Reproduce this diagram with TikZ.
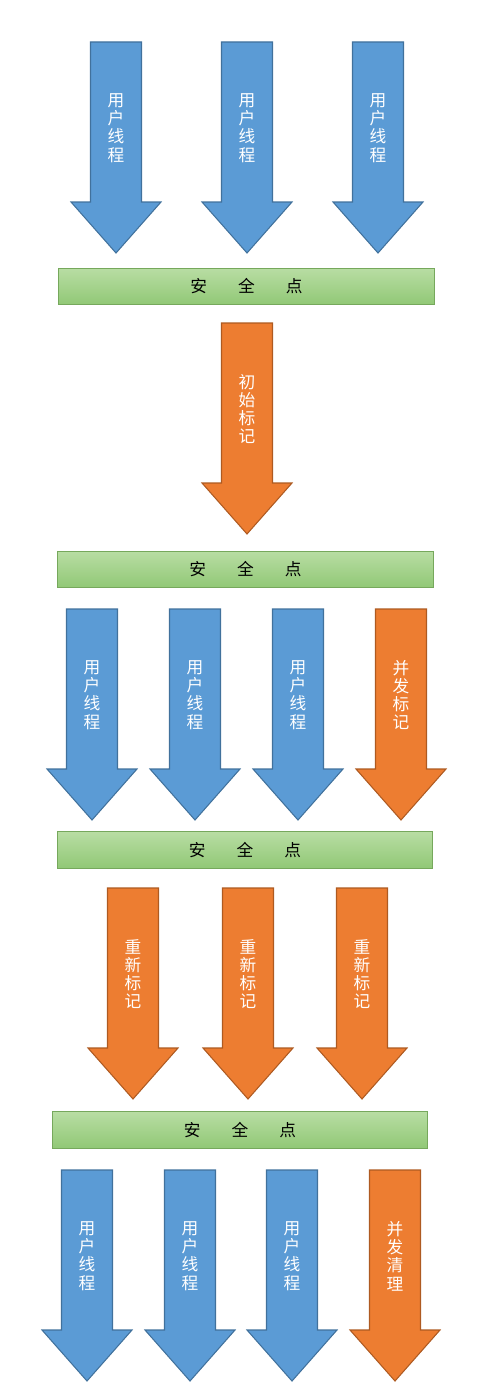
\documentclass[tikz,border=0pt]{standalone}
\usepackage{fontspec}
\setmainfont{Noto Sans CJK SC}
\usepackage{tikz}
\usetikzlibrary{positioning}
\usetikzlibrary{calc}
\definecolor{threadfill}{RGB}{91,155,213}
\definecolor{threadline}{RGB}{65,113,156}
\definecolor{gcfill}{RGB}{237,125,49}
\definecolor{gcline}{RGB}{174,90,33}
\definecolor{pointtop}{RGB}{184,221,163}
\definecolor{pointbottom}{RGB}{145,200,118}
\definecolor{pointline}{RGB}{118,168,92}
\tikzstyle{bluearrow}=[fill=threadfill,draw=threadline,line width=0.6pt,line join=miter]
\tikzstyle{orangearrow}=[fill=gcfill,draw=gcline,line width=0.6pt,line join=miter]
\tikzstyle{arrowtext}=[text=white,align=center,inner sep=0pt,font=\fontsize{9.5}{10.4}\selectfont]
\tikzstyle{safepoint}=[draw=pointline,line width=0.6pt,top color=pointtop,bottom color=pointbottom,minimum width=7.52cm,minimum height=0.73cm,inner sep=0pt,font=\fontsize{9.5}{10.4}\selectfont]

\begin{document}
\begin{tikzpicture}[x=0.02cm, y=-0.02cm]

  \useasboundingbox (0,0) rectangle (500,1399);

  \def\sw{25.5};
  \def\hw{45};
  \def\sl{160};
  \def\al{211};

  % user threads
  \foreach \x/\y/\name in {116/42/ua, 247/42/ub, 378/42/uc, 92/609/ud, 195/609/ue, 298/609/uf, 87/1170/ug, 190/1170/uh, 292/1170/ui}
  {
    \draw[bluearrow] (\x-\sw,\y) -- (\x+\sw,\y) -- (\x+\sw,\y+\sl) -- (\x+\hw,\y+\sl) -- (\x,\y+\al) -- (\x-\hw,\y+\sl) -- (\x-\sw,\y+\sl) -- cycle;
    \node[arrowtext] (\name) at (\x,\y+86) {用\\户\\线\\程};
  }

  % gc phases
  \foreach \x/\y/\name/\txt in {247/323/init/{初\\始\\标\\记}, 401/609/cmark/{并\\发\\标\\记}, 133/888/ra/{重\\新\\标\\记}, 248/888/rb/{重\\新\\标\\记}, 362/888/rc/{重\\新\\标\\记}, 395/1170/clean/{并\\发\\清\\理}}
  {
    \draw[orangearrow] (\x-\sw,\y) -- (\x+\sw,\y) -- (\x+\sw,\y+\sl) -- (\x+\hw,\y+\sl) -- (\x,\y+\al) -- (\x-\hw,\y+\sl) -- (\x-\sw,\y+\sl) -- cycle;
    \node[arrowtext] (\name) at (\x,\y+86) {\txt};
  }

  % safe points
  \foreach \x/\y/\name in {246.5/286.5/sa, 245.5/569.5/sb, 245/850/sc, 240/1130/sd}
    \node[safepoint] (\name) at (\x,\y) {安\hspace{0.62cm}全\hspace{0.62cm}点};

\end{tikzpicture}
\end{document}
